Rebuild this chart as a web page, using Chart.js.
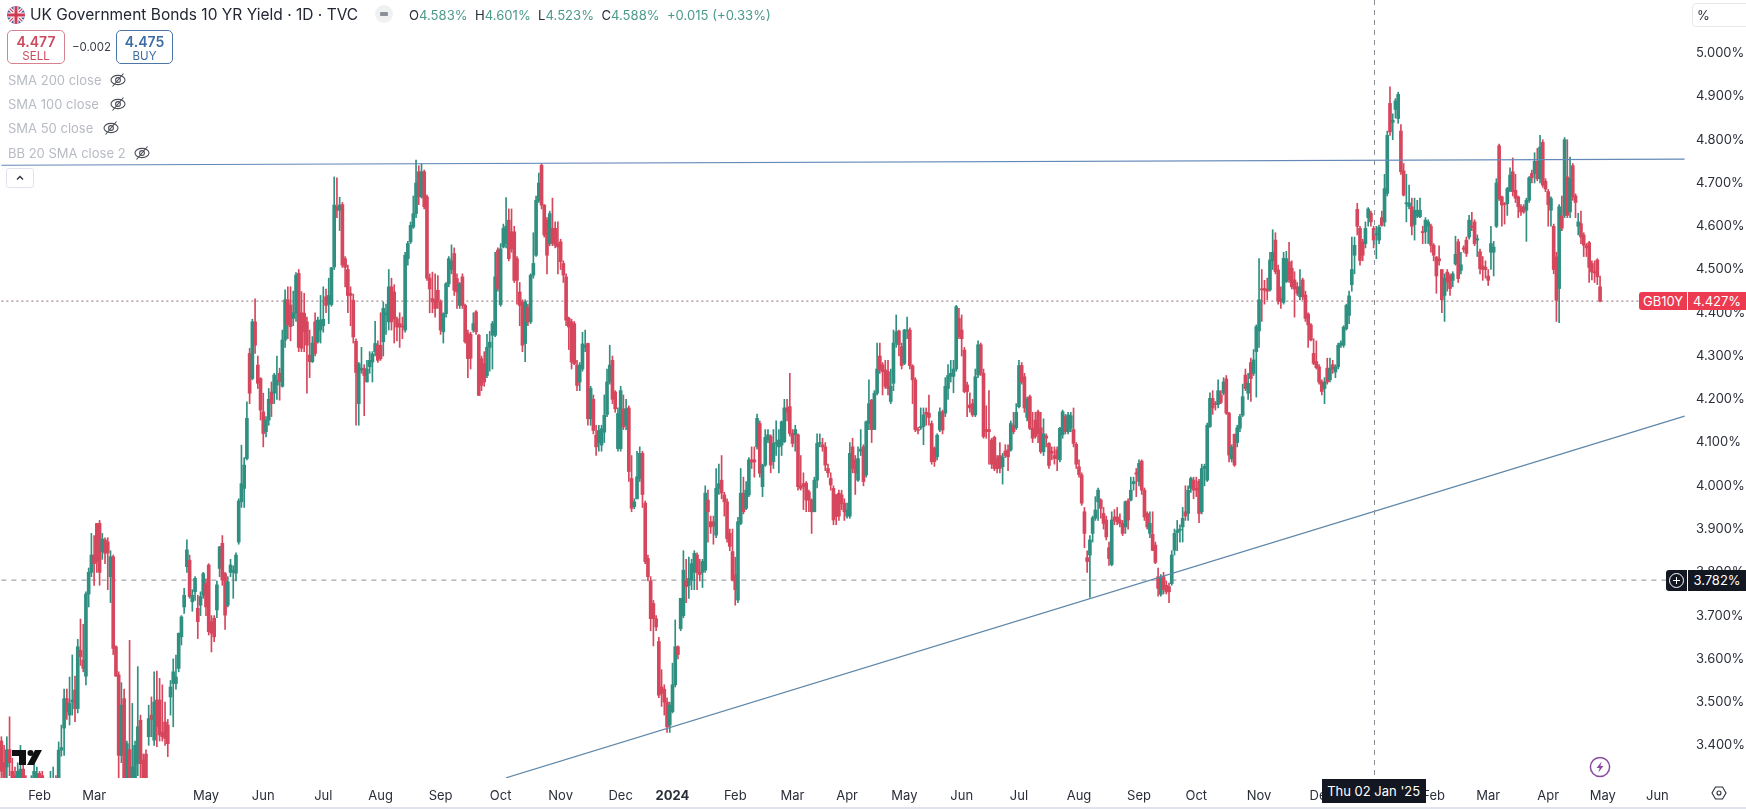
<!DOCTYPE html>
<html><head><meta charset="utf-8">
<title>UK Government Bonds 10 YR Yield</title>
<script src="https://cdn.jsdelivr.net/npm/chart.js@4"></script>
<style>
html,body{margin:0;padding:0;background:#fff;width:1746px;height:809px;overflow:hidden;font-family:Inter,"Noto Sans",sans-serif}
#wrap{position:relative;width:1746px;height:809px}
canvas{position:absolute;left:0;top:0}
.a{position:absolute;white-space:nowrap}
.ind{color:#b7bbc3;font-size:13px;left:8px;line-height:16px}
.box{border:1px solid;border-radius:5px;text-align:center;box-sizing:border-box;background:#fff}
.box b{display:block;font-size:14px;line-height:15px;margin-top:3px;font-weight:600}
.box span{display:block;font-size:11.5px;line-height:14px}
.badge{color:#fff;font-size:13px;line-height:21px;height:21px;text-align:center}
</style></head>
<body><div id="wrap">
<canvas id="c" width="1746" height="809"></canvas>

<svg class="a" style="left:7px;top:6px" width="18" height="18" viewBox="0 0 18 18"><defs><clipPath id="fc"><circle cx="9" cy="9" r="9"/></clipPath></defs><g clip-path="url(#fc)"><rect width="18" height="18" fill="#3f5a9c"/><path d="M0 0L18 18M18 0L0 18" stroke="#fff" stroke-width="3.4"/><path d="M0 0L18 18M18 0L0 18" stroke="#cf3b52" stroke-width="1.2"/><path d="M9 0V18M0 9H18" stroke="#fff" stroke-width="5"/><path d="M9 0V18M0 9H18" stroke="#cf3b52" stroke-width="3"/></g></svg>
<div class="a" style="left:30px;top:5px;font-size:15.5px;line-height:20px;color:#222733">UK Government Bonds 10 YR Yield · 1D · TVC</div>
<div class="a" style="left:375px;top:5px;width:18px;height:18px;border-radius:9px;background:#eff0f2"></div>
<div class="a" style="left:380px;top:12px;width:8px;height:4px;border-radius:1px;background:#8b8f98"></div>
<div class="a" style="left:409px;top:6px;font-size:13.1px;line-height:18px;color:#4c9a8b"><span style="color:#2a2e39">O</span>4.583% <span style="color:#2a2e39">&nbsp;H</span>4.601% <span style="color:#2a2e39">&nbsp;L</span>4.523% <span style="color:#2a2e39">&nbsp;C</span>4.588% &nbsp;+0.015 (+0.33%)</div>

<div class="a box" style="left:7px;top:30px;width:58px;height:34px;border-color:#d9828f;color:#cc4a5e"><b>4.477</b><span>SELL</span></div>
<div class="a" style="left:72px;top:40px;font-size:11.5px;line-height:14px;color:#3c4049">−0.002</div>
<div class="a box" style="left:116px;top:30px;width:57px;height:34px;border-color:#4a76a8;color:#3c6ca4"><b>4.475</b><span>BUY</span></div>

<div class="a ind" style="top:72px">SMA 200 close</div>
<div class="a ind" style="top:96px">SMA 100 close</div>
<div class="a ind" style="top:120px">SMA 50 close</div>
<div class="a ind" style="top:145px">BB 20 SMA close 2</div>
<svg class="a" style="left:109px;top:71px" width="18" height="18" viewBox="0 0 18 18"><use href="#eye"/></svg>
<svg class="a" style="left:109px;top:95px" width="18" height="18" viewBox="0 0 18 18"><use href="#eye"/></svg>
<svg class="a" style="left:102px;top:119px" width="18" height="18" viewBox="0 0 18 18"><use href="#eye"/></svg>
<svg class="a" style="left:133px;top:144px" width="18" height="18" viewBox="0 0 18 18"><use href="#eye"/></svg>
<svg width="0" height="0" style="position:absolute"><defs><g id="eye" fill="none" stroke="#4a4e57" stroke-width="1.1"><ellipse cx="9" cy="9" rx="7" ry="4.6"/><circle cx="9" cy="9" r="2.4"/><path d="M3.5 15.5L14.5 2.5"/></g></defs></svg>

<div class="a" style="left:6px;top:168px;width:28px;height:20px;border:1px solid #e0e3eb;border-radius:3px;box-sizing:border-box;background:#fff"></div>
<svg class="a" style="left:15px;top:173px" width="10" height="10" viewBox="0 0 10 10"><path d="M2 6.5L5 3.5L8 6.5" fill="none" stroke="#2a2e39" stroke-width="1.3"/></svg>

<div class="a" style="left:1692px;top:3px;width:60px;height:24px;border:1px solid #e6e8ee;border-radius:4px;box-sizing:border-box;font-size:13px;line-height:22px;color:#2a2e39;padding-left:4px">%</div>

<svg class="a" style="left:11px;top:749px" width="32" height="17" viewBox="0 0 32 17"><path d="M1 1H15V16H8V7H1Z" fill="#111"/><circle cx="19.5" cy="4" r="3" fill="#111"/><path d="M24 1H31L23 16H16Z" fill="#111"/></svg>
<svg class="a" style="left:1589px;top:756px" width="22" height="22" viewBox="0 0 22 22"><circle cx="11" cy="11" r="9.6" fill="#fff" stroke="#8a4aa0" stroke-width="1.5"/><path d="M12.6 5.5L7.6 12H10.6L9.4 16.5L14.4 10H11.4Z" fill="#8a4aa0"/></svg>
<svg class="a" style="left:1711px;top:785px" width="16" height="16" viewBox="0 0 16 16"><path d="M4.5 2H11.5L15 8L11.5 14H4.5L1 8Z" fill="none" stroke="#2a2e39" stroke-width="1.1"/><circle cx="8" cy="8" r="2" fill="none" stroke="#2a2e39" stroke-width="1.1"/></svg>

<div id="tagName" class="a badge" style="left:1639px;width:48px;background:#ec3a50;border-radius:3px 0 0 3px;height:18px;line-height:18px">GB10Y</div>
<div id="tagLast" class="a badge" style="left:1688px;width:58px;background:#ec3a50;height:18px;line-height:18px">4.427%</div>
<div id="tagPlus" class="a" style="left:1666px;width:21px;height:21px;background:#131722;border-radius:3px 0 0 3px"></div>
<svg id="tagPlusIcon" class="a" style="left:1668px" width="17" height="17" viewBox="0 0 17 17"><circle cx="8.5" cy="8.5" r="7" fill="none" stroke="#fff" stroke-width="1"/><path d="M8.5 5V12M5 8.5H12" stroke="#fff" stroke-width="1"/></svg>
<div id="tagCross" class="a badge" style="left:1688px;width:58px;background:#131722">3.782%</div>
<div id="tagDate" class="a badge" style="top:779px;width:104px;height:24px;line-height:24px;background:#131722">Thu 02 Jan '25</div>
<div class="a" style="left:0;top:807px;width:1746px;height:2px;background:#e0e3eb"></div>
</div>

<script>
const opens=[
3.41,3.36,3.35,3.39,3.34,3.33,3.31,3.32,3.345,3.31,
3.30,3.29,3.31,3.32,3.335,3.33,3.30,3.29,3.30,3.31,
3.32,3.30,3.389,3.44,3.508,3.47,3.50,3.528,3.485,3.62,
3.597,3.56,3.75,3.80,3.84,3.913,3.913,3.848,3.875,3.87,
3.79,3.836,3.628,3.563,3.377,3.508,3.30,3.39,3.30,3.31,
3.358,3.458,3.366,3.38,3.42,3.47,3.412,3.505,3.505,3.43,
3.454,3.447,3.512,3.543,3.543,3.578,3.651,3.72,3.813,3.828,
3.732,3.755,3.717,3.724,3.747,3.774,3.817,3.686,3.694,3.713,
3.809,3.867,3.797,3.724,3.80,3.80,3.798,3.87,3.963,3.994,
4.063,4.306,4.248,4.379,4.279,4.248,4.171,4.125,4.152,4.217,
4.214,4.233,4.26,4.23,4.337,4.43,4.418,4.387,4.399,4.491,
4.40,4.399,4.379,4.302,4.287,4.379,4.333,4.36,4.37,4.437,
4.42,4.419,4.506,4.645,4.637,4.65,4.525,4.50,4.445,4.429,
4.334,4.19,4.267,4.271,4.24,4.275,4.286,4.31,4.325,4.325,
4.333,4.395,4.379,4.46,4.448,4.386,4.375,4.37,4.36,4.525,
4.564,4.598,4.629,4.726,4.668,4.726,4.668,4.48,4.433,4.43,
4.452,4.425,4.356,4.398,4.467,4.50,4.537,4.479,4.417,4.483,
4.417,4.352,4.35,4.36,4.402,4.348,4.294,4.282,4.255,4.32,
4.348,4.348,4.545,4.419,4.552,4.56,4.614,4.587,4.587,4.525,
4.448,4.425,4.329,4.413,4.379,4.487,4.533,4.66,4.741,4.649,
4.614,4.56,4.595,4.595,4.56,4.564,4.514,4.483,4.387,4.379,
4.375,4.279,4.24,4.27,4.32,4.329,4.155,4.20,4.117,4.10,
4.094,4.124,4.165,4.24,4.29,4.217,4.086,4.086,4.178,4.14,
4.18,4.017,3.952,3.97,4.017,4.075,3.96,3.832,3.78,3.728,
3.693,3.64,3.535,3.53,3.50,3.447,3.478,3.54,3.628,3.67,
3.70,3.78,3.77,3.782,3.80,3.84,3.80,3.80,3.805,3.967,
3.917,3.917,3.886,3.994,4.013,3.979,3.963,3.89,3.848,3.794,
3.736,3.913,3.983,3.948,3.979,4.06,4.06,4.09,4.144,3.998,
4.048,4.106,4.114,4.056,4.098,4.09,4.094,4.102,4.18,4.183,
4.121,4.118,4.118,4.0,4.005,4.006,3.986,3.967,3.94,4.013,
4.098,4.095,4.09,4.04,4.017,3.994,3.979,3.983,3.979,3.96,
3.93,3.93,4.09,4.06,4.013,4.08,4.09,4.025,4.144,4.198,
4.13,4.214,4.30,4.28,4.268,4.264,4.195,4.237,4.33,4.358,
4.322,4.283,4.358,4.36,4.277,4.245,4.13,4.134,4.137,4.17,
4.168,4.144,4.087,4.067,4.129,4.171,4.168,4.225,4.253,4.253,
4.27,4.387,4.36,4.314,4.233,4.187,4.19,4.164,4.256,4.326,
4.26,4.13,4.13,4.106,4.112,4.063,4.07,4.044,4.08,4.083,
4.083,4.14,4.134,4.183,4.278,4.252,4.158,4.206,4.133,4.152,
4.171,4.134,4.079,4.115,4.098,4.08,4.07,4.083,4.06,4.118,
4.16,4.125,4.133,4.13,4.096,4.044,4.025,3.94,3.834,3.84,
3.89,3.925,3.963,3.967,3.936,3.921,3.857,3.818,3.928,3.928,
3.921,3.913,3.905,3.965,3.967,4.005,4.03,4.01,4.057,3.99,
3.936,3.89,3.888,3.863,3.79,3.749,3.79,3.77,3.767,3.774,
3.851,3.892,3.897,3.905,3.94,3.936,3.994,4.013,3.994,4.011,
3.94,4.04,4.013,4.137,4.202,4.19,4.188,4.21,4.214,4.247,
4.168,4.062,4.119,4.10,4.133,4.163,4.256,4.214,4.285,4.26,
4.31,4.358,4.455,4.456,4.455,4.453,4.52,4.568,4.499,4.433,
4.424,4.472,4.518,4.503,4.476,4.46,4.437,4.476,4.441,4.397,
4.372,4.306,4.287,4.275,4.24,4.225,4.272,4.245,4.28,4.263,
4.275,4.325,4.325,4.363,4.394,4.465,4.533,4.639,4.595,4.564,
4.56,4.62,4.63,4.595,4.58,4.568,4.62,4.61,4.676,4.884,
4.84,4.87,4.849,4.82,4.728,4.652,4.646,4.645,4.604,4.624,
4.622,4.588,4.587,4.60,4.60,4.556,4.529,4.525,4.50,4.44,
4.494,4.485,4.475,4.513,4.564,4.498,4.55,4.568,4.575,4.60,
4.61,4.568,4.541,4.508,4.505,4.485,4.54,4.54,4.60,4.786,
4.668,4.651,4.652,4.683,4.726,4.683,4.668,4.645,4.645,4.637,
4.66,4.722,4.722,4.75,4.71,4.794,4.704,4.68,4.637,4.60,
4.529,4.456,4.624,4.625,4.714,4.633,4.74,4.67,4.60,4.606,
4.58,4.555,4.562,4.514,4.495,4.522,4.46];
const closes=[
3.34,3.30,3.39,3.36,3.31,3.30,3.34,3.345,3.31,3.29,
3.28,3.31,3.34,3.335,3.32,3.31,3.29,3.30,3.315,3.32,
3.30,3.389,3.395,3.508,3.478,3.497,3.505,3.485,3.628,3.605,
3.578,3.75,3.80,3.84,3.82,3.825,3.80,3.877,3.844,3.845,
3.836,3.624,3.56,3.377,3.493,3.30,3.404,3.31,3.35,3.40,
3.443,3.358,3.30,3.32,3.462,3.46,3.50,3.443,3.424,3.42,
3.416,3.404,3.535,3.57,3.558,3.659,3.697,3.747,3.852,3.744,
3.747,3.786,3.686,3.744,3.797,3.72,3.663,3.659,3.651,3.771,
3.859,3.782,3.701,3.778,3.817,3.805,3.84,3.965,4.005,4.048,
4.156,4.214,4.379,4.325,4.237,4.175,4.121,4.152,4.20,4.19,
4.256,4.244,4.241,4.337,4.43,4.372,4.368,4.40,4.487,4.32,
4.318,4.356,4.325,4.287,4.33,4.306,4.383,4.383,4.385,4.417,
4.44,4.504,4.649,4.637,4.649,4.51,4.505,4.44,4.44,4.344,
4.262,4.282,4.272,4.255,4.27,4.29,4.305,4.329,4.29,4.294,
4.41,4.40,4.46,4.379,4.386,4.367,4.367,4.367,4.533,4.56,
4.602,4.629,4.70,4.668,4.726,4.645,4.48,4.455,4.425,4.41,
4.425,4.36,4.398,4.467,4.525,4.52,4.452,4.448,4.467,4.417,
4.333,4.294,4.295,4.375,4.356,4.209,4.232,4.24,4.32,4.332,
4.375,4.483,4.456,4.548,4.595,4.60,4.525,4.548,4.475,4.475,
4.417,4.325,4.425,4.379,4.487,4.514,4.66,4.70,4.649,4.58,
4.533,4.629,4.56,4.556,4.552,4.518,4.487,4.383,4.367,4.286,
4.282,4.232,4.279,4.328,4.325,4.155,4.225,4.128,4.09,4.128,
4.132,4.163,4.24,4.279,4.20,4.178,4.167,4.22,4.136,4.178,
4.033,3.948,3.963,4.021,4.075,3.98,3.825,3.79,3.693,3.693,
3.674,3.516,3.52,3.50,3.443,3.493,3.54,3.628,3.61,3.74,
3.805,3.767,3.786,3.82,3.844,3.80,3.795,3.825,3.983,3.94,
3.905,3.907,3.994,4.005,3.983,3.963,3.878,3.86,3.782,3.76,
3.917,3.983,3.94,3.99,4.06,4.055,4.055,4.156,4.029,4.048,
4.112,4.118,4.048,4.098,4.10,4.106,4.148,4.18,4.17,4.121,
4.098,4.13,3.998,3.994,3.998,3.967,3.967,3.94,4.013,4.098,
4.10,4.09,4.048,4.03,4.002,3.921,3.929,3.93,3.959,3.94,
3.944,4.075,4.04,4.03,4.063,4.085,4.01,4.148,4.19,4.13,
4.214,4.27,4.268,4.264,4.23,4.225,4.23,4.33,4.356,4.326,
4.278,4.36,4.36,4.278,4.245,4.13,4.128,4.137,4.164,4.165,
4.158,4.056,4.056,4.117,4.171,4.129,4.23,4.255,4.26,4.27,
4.414,4.345,4.34,4.218,4.218,4.18,4.164,4.252,4.326,4.26,
4.114,4.126,4.125,4.05,4.04,4.04,4.04,4.067,4.07,4.067,
4.144,4.125,4.17,4.278,4.24,4.18,4.20,4.133,4.11,4.114,
4.12,4.079,4.12,4.11,4.047,4.075,4.063,4.063,4.133,4.171,
4.125,4.164,4.162,4.098,4.05,4.026,3.96,3.89,3.825,3.875,
3.926,3.944,3.99,3.948,3.913,3.882,3.832,3.921,3.92,3.917,
3.913,3.89,3.963,3.921,3.99,4.01,4.027,4.052,3.99,3.928,
3.905,3.913,3.851,3.823,3.763,3.786,3.76,3.755,3.755,3.84,
3.89,3.897,3.90,3.925,3.93,3.99,4.017,3.99,3.99,3.936,
4.04,4.045,4.14,4.202,4.18,4.188,4.22,4.193,4.24,4.168,
4.071,4.09,4.048,4.134,4.16,4.206,4.225,4.237,4.248,4.291,
4.368,4.43,4.453,4.452,4.45,4.522,4.54,4.495,4.427,4.426,
4.526,4.525,4.476,4.46,4.455,4.445,4.46,4.437,4.387,4.372,
4.337,4.283,4.273,4.24,4.218,4.24,4.24,4.272,4.27,4.275,
4.325,4.33,4.367,4.417,4.439,4.50,4.556,4.60,4.521,4.533,
4.595,4.64,4.61,4.568,4.583,4.598,4.602,4.687,4.81,4.818,
4.845,4.89,4.905,4.726,4.672,4.654,4.654,4.60,4.637,4.637,
4.637,4.585,4.614,4.61,4.556,4.533,4.485,4.52,4.43,4.48,
4.471,4.456,4.49,4.535,4.479,4.511,4.547,4.537,4.614,4.598,
4.56,4.571,4.502,4.50,4.50,4.475,4.56,4.552,4.70,4.664,
4.649,4.65,4.687,4.718,4.68,4.665,4.645,4.633,4.633,4.66,
4.712,4.712,4.75,4.71,4.783,4.695,4.686,4.65,4.664,4.50,
4.429,4.645,4.596,4.80,4.625,4.71,4.668,4.655,4.61,4.575,
4.556,4.55,4.505,4.494,4.492,4.483,4.427];
const highs=[
3.42,3.40,3.42,3.466,3.37,3.35,3.36,3.40,3.36,3.33,
3.32,3.33,3.36,3.35,3.34,3.34,3.31,3.31,3.34,3.35,
3.33,3.408,3.447,3.53,3.53,3.558,3.609,3.56,3.645,3.692,
3.68,3.755,3.81,3.89,3.885,3.913,3.92,3.89,3.88,3.88,
3.85,3.84,3.63,3.57,3.545,3.53,3.41,3.643,3.497,3.41,
3.582,3.47,3.38,3.39,3.493,3.512,3.57,3.572,3.555,3.54,
3.50,3.46,3.55,3.60,3.609,3.66,3.70,3.763,3.875,3.84,
3.76,3.79,3.747,3.755,3.80,3.785,3.82,3.70,3.70,3.78,
3.86,3.885,3.80,3.79,3.83,3.815,3.845,3.97,4.094,4.065,
4.194,4.318,4.385,4.432,4.30,4.25,4.214,4.16,4.225,4.24,
4.26,4.30,4.272,4.36,4.453,4.46,4.46,4.45,4.493,4.50,
4.449,4.445,4.39,4.36,4.345,4.40,4.39,4.44,4.46,4.455,
4.48,4.505,4.714,4.712,4.667,4.655,4.53,4.51,4.46,4.443,
4.34,4.285,4.32,4.28,4.29,4.31,4.31,4.38,4.335,4.40,
4.425,4.42,4.50,4.48,4.465,4.39,4.40,4.39,4.54,4.565,
4.61,4.67,4.753,4.74,4.745,4.73,4.672,4.49,4.494,4.49,
4.486,4.43,4.40,4.47,4.53,4.557,4.55,4.49,4.47,4.49,
4.42,4.36,4.355,4.40,4.405,4.35,4.30,4.31,4.35,4.357,
4.38,4.54,4.55,4.56,4.605,4.666,4.64,4.64,4.60,4.53,
4.47,4.43,4.43,4.42,4.49,4.585,4.67,4.723,4.745,4.65,
4.62,4.635,4.665,4.61,4.61,4.57,4.52,4.49,4.39,4.385,
4.38,4.29,4.285,4.355,4.36,4.33,4.23,4.21,4.14,4.14,
4.14,4.21,4.27,4.325,4.30,4.22,4.18,4.23,4.21,4.20,
4.185,4.07,3.97,4.08,4.09,4.08,3.965,3.84,3.79,3.735,
3.70,3.65,3.575,3.54,3.51,3.50,3.59,3.69,3.63,3.74,
3.85,3.83,3.835,3.83,3.85,3.845,3.83,3.83,4.0,3.99,
3.93,3.93,4.04,4.05,4.07,3.985,3.97,3.90,3.90,3.835,
3.927,4.04,4.02,4.01,4.065,4.09,4.09,4.166,4.15,4.05,
4.13,4.13,4.118,4.13,4.15,4.13,4.15,4.20,4.20,4.26,
4.13,4.14,4.12,4.07,4.03,4.01,3.99,3.97,4.02,4.12,
4.12,4.11,4.10,4.05,4.03,4.0,3.98,3.99,3.99,3.97,
3.96,4.10,4.11,4.07,4.09,4.13,4.095,4.15,4.245,4.20,
4.22,4.33,4.33,4.285,4.29,4.29,4.27,4.36,4.395,4.36,
4.33,4.362,4.39,4.365,4.28,4.25,4.135,4.18,4.18,4.18,
4.21,4.15,4.09,4.12,4.18,4.175,4.25,4.28,4.29,4.29,
4.417,4.41,4.395,4.32,4.24,4.215,4.20,4.27,4.335,4.33,
4.27,4.185,4.22,4.11,4.115,4.07,4.10,4.075,4.095,4.095,
4.15,4.17,4.19,4.29,4.285,4.26,4.205,4.21,4.17,4.17,
4.175,4.17,4.155,4.12,4.10,4.09,4.09,4.09,4.135,4.175,
4.165,4.17,4.17,4.18,4.10,4.06,4.03,3.95,3.85,3.885,
3.93,3.975,3.995,3.97,3.95,3.93,3.87,3.94,3.945,3.95,
3.935,3.92,3.965,3.97,4.02,4.02,4.04,4.06,4.06,3.995,
3.94,3.94,3.94,3.87,3.81,3.795,3.80,3.78,3.775,3.85,
3.90,3.92,3.91,3.95,4.0,4.0,4.02,4.02,4.02,4.015,
4.05,4.05,4.145,4.215,4.22,4.195,4.245,4.22,4.25,4.255,
4.17,4.095,4.12,4.14,4.165,4.235,4.27,4.26,4.295,4.315,
4.372,4.525,4.50,4.475,4.48,4.54,4.592,4.585,4.51,4.46,
4.54,4.542,4.563,4.52,4.495,4.47,4.50,4.48,4.45,4.40,
4.375,4.34,4.335,4.28,4.245,4.25,4.295,4.295,4.29,4.28,
4.33,4.335,4.37,4.42,4.45,4.575,4.575,4.653,4.60,4.57,
4.61,4.643,4.635,4.60,4.60,4.603,4.635,4.72,4.82,4.922,
4.86,4.895,4.91,4.835,4.745,4.72,4.695,4.665,4.665,4.66,
4.665,4.60,4.62,4.615,4.605,4.56,4.53,4.555,4.50,4.49,
4.50,4.49,4.495,4.577,4.57,4.54,4.555,4.575,4.625,4.632,
4.615,4.58,4.547,4.53,4.52,4.50,4.60,4.565,4.71,4.79,
4.67,4.655,4.69,4.735,4.758,4.72,4.67,4.65,4.65,4.665,
4.715,4.73,4.77,4.78,4.81,4.80,4.71,4.685,4.668,4.605,
4.54,4.65,4.67,4.805,4.80,4.76,4.745,4.675,4.63,4.635,
4.585,4.56,4.565,4.52,4.52,4.525,4.485];
const lows=[
3.30,3.27,3.30,3.33,3.29,3.28,3.29,3.30,3.29,3.27,
3.26,3.27,3.30,3.30,3.30,3.29,3.27,3.27,3.28,3.29,
3.28,3.29,3.375,3.377,3.46,3.447,3.47,3.455,3.475,3.585,
3.57,3.54,3.72,3.79,3.77,3.80,3.77,3.83,3.82,3.76,
3.73,3.61,3.56,3.30,3.36,3.27,3.28,3.29,3.27,3.30,
3.33,3.32,3.28,3.30,3.40,3.42,3.40,3.397,3.41,3.41,
3.40,3.374,3.47,3.443,3.53,3.57,3.632,3.705,3.80,3.74,
3.71,3.735,3.647,3.70,3.74,3.70,3.655,3.616,3.64,3.695,
3.79,3.77,3.668,3.72,3.79,3.74,3.78,3.865,3.95,3.95,
4.06,4.19,4.245,4.306,4.225,4.152,4.09,4.113,4.14,4.16,
4.19,4.20,4.198,4.228,4.32,4.34,4.335,4.37,4.38,4.31,
4.31,4.31,4.214,4.25,4.285,4.30,4.33,4.33,4.355,4.40,
4.375,4.415,4.50,4.62,4.59,4.505,4.46,4.40,4.37,4.33,
4.14,4.14,4.26,4.162,4.24,4.26,4.24,4.30,4.285,4.29,
4.30,4.35,4.36,4.36,4.33,4.335,4.32,4.34,4.355,4.51,
4.56,4.595,4.62,4.65,4.665,4.64,4.475,4.40,4.40,4.39,
4.41,4.35,4.33,4.39,4.46,4.49,4.44,4.41,4.41,4.41,
4.33,4.25,4.27,4.355,4.35,4.209,4.22,4.23,4.25,4.265,
4.27,4.345,4.45,4.415,4.55,4.55,4.52,4.54,4.47,4.42,
4.37,4.31,4.287,4.37,4.375,4.48,4.53,4.655,4.64,4.575,
4.49,4.555,4.555,4.55,4.49,4.50,4.47,4.37,4.315,4.27,
4.28,4.22,4.22,4.265,4.31,4.14,4.14,4.12,4.07,4.08,
4.08,4.10,4.16,4.235,4.19,4.17,4.08,4.08,4.13,4.13,
4.01,3.94,3.947,3.97,4.01,3.95,3.82,3.78,3.665,3.63,
3.665,3.51,3.49,3.47,3.43,3.43,3.475,3.535,3.60,3.665,
3.695,3.73,3.74,3.76,3.76,3.76,3.78,3.765,3.80,3.87,
3.89,3.865,3.88,3.98,3.97,3.93,3.87,3.85,3.78,3.724,
3.73,3.91,3.935,3.945,3.975,4.04,4.02,4.085,4.02,3.975,
4.045,4.10,4.03,4.04,4.07,4.03,4.07,4.10,4.15,4.115,
4.09,4.08,3.99,3.99,3.945,3.94,3.94,3.89,3.94,3.995,
4.09,4.08,4.035,4.02,3.99,3.91,3.91,3.92,3.945,3.92,
3.925,3.925,4.03,3.98,4.01,4.07,4.00,4.02,4.13,4.10,
4.13,4.21,4.26,4.21,4.225,4.21,4.19,4.22,4.32,4.30,
4.27,4.28,4.34,4.27,4.19,4.125,4.12,4.13,4.095,4.14,
4.14,4.05,4.045,4.06,4.125,4.12,4.16,4.20,4.24,4.215,
4.265,4.34,4.30,4.215,4.16,4.17,4.16,4.16,4.25,4.255,
4.11,4.11,4.05,4.04,4.035,4.03,4.03,4.004,4.065,4.035,
4.08,4.12,4.13,4.18,4.235,4.17,4.15,4.13,4.10,4.11,
4.10,4.075,4.07,4.09,4.04,4.06,4.05,4.035,4.055,4.11,
4.12,4.12,4.125,4.09,4.04,4.02,3.955,3.857,3.80,3.742,
3.87,3.92,3.92,3.925,3.90,3.875,3.816,3.815,3.91,3.91,
3.905,3.885,3.89,3.90,3.965,3.99,3.975,4.0,3.98,3.92,
3.90,3.88,3.85,3.82,3.745,3.745,3.75,3.75,3.73,3.77,
3.84,3.85,3.87,3.87,3.92,3.92,3.985,3.97,3.975,3.915,
3.935,4.0,4.01,4.135,4.165,4.175,4.18,4.19,4.21,4.165,
4.055,4.055,4.045,4.09,4.125,4.16,4.22,4.20,4.195,4.255,
4.205,4.32,4.38,4.42,4.43,4.45,4.50,4.49,4.42,4.41,
4.42,4.47,4.47,4.455,4.39,4.44,4.43,4.43,4.38,4.32,
4.335,4.28,4.27,4.235,4.21,4.19,4.235,4.24,4.26,4.25,
4.27,4.32,4.32,4.36,4.375,4.45,4.49,4.58,4.51,4.52,
4.55,4.60,4.60,4.55,4.525,4.56,4.60,4.60,4.67,4.81,
4.80,4.85,4.838,4.72,4.67,4.61,4.64,4.58,4.568,4.62,
4.62,4.56,4.56,4.56,4.54,4.52,4.445,4.51,4.40,4.38,
4.45,4.44,4.46,4.51,4.47,4.49,4.54,4.53,4.57,4.59,
4.555,4.53,4.49,4.475,4.48,4.463,4.50,4.485,4.597,4.66,
4.60,4.605,4.625,4.68,4.67,4.655,4.62,4.625,4.63,4.565,
4.655,4.70,4.70,4.705,4.70,4.69,4.68,4.60,4.60,4.49,
4.38,4.377,4.59,4.62,4.62,4.62,4.66,4.62,4.58,4.56,
4.53,4.53,4.47,4.476,4.47,4.465,4.425];

const monthNames=['Feb','Mar','May','Jun','Jul','Aug','Sep','Oct','Nov','Dec','2024','Feb','Mar','Apr','May','Jun','Jul','Aug','Sep','Oct','Nov','Dec','Feb','Mar','Apr','May','Jun'];
const monthBars=[14,34,75,96,118,139,161,183,205,227,246,269,290,310,331,352,373,395,417,438,461,484,525,545,567,587,607];
const barSlots=618;
const yTickValues=[5.0,4.9,4.8,4.7,4.6,4.5,4.4,4.3,4.2,4.1,4.0,3.9,3.8,3.7,3.6,3.5,3.4];
const yAxisTop=5.123, yAxisBottom=3.3246;
const resistanceBars=[0,617], resistanceValues=[4.741,4.755];
const supportBars=[185,617], supportValues=[3.325,4.161];
const lastPrice=4.427, crossPrice=3.782, crossBar=503;

const GREEN='#2f8f80', RED='#d6465c';
const labels=Array.from({length:barSlots},()=>'');
monthBars.forEach((b,i)=>{labels[b]=monthNames[i];});
const sparse=(bars,vals)=>{const d=new Array(barSlots).fill(null);bars.forEach((b,i)=>{d[b]=vals[i];});return d;};
const lineDs=(bars,vals,color,width,dash)=>({type:'line',data:sparse(bars,vals),borderColor:color,borderWidth:width,borderDash:dash||[],pointRadius:0,spanGaps:true,tension:0,order:dash?3:1});
const candleColor=c=>closes[c.dataIndex]>=opens[c.dataIndex]?GREEN:RED;
const noPad=s=>{s.paddingLeft=s.paddingRight=s.paddingTop=s.paddingBottom=0;};

const crosshair={id:'crosshair',afterDatasetsDraw(chart){
  const x=chart.scales.x.getPixelForValue(crossBar),a=chart.chartArea,g=chart.ctx;
  g.save();g.strokeStyle='#8a8e96';g.lineWidth=1;g.setLineDash([5,5]);
  g.beginPath();g.moveTo(Math.round(x)+.5,a.top);g.lineTo(Math.round(x)+.5,a.bottom);g.stroke();g.restore();
}};
const FONT='Inter, "Noto Sans", sans-serif';
const chart=new Chart(document.getElementById('c'),{
  type:'bar',
  data:{labels,datasets:[
    lineDs(resistanceBars,resistanceValues,'#6488b8',1.2),
    lineDs(supportBars,supportValues,'#5f87a8',1.2),
    lineDs([0,617],[lastPrice,lastPrice],'#8c6a70',1,[2,3]),
    lineDs([0,617],[crossPrice,crossPrice],'#8a8e96',1,[5,5]),
    {data:opens.map((o,i)=>[o,closes[i]]),backgroundColor:candleColor,barThickness:3,grouped:false,minBarLength:1,order:2,borderSkipped:false},
    {data:lows.map((l,i)=>[l,highs[i]]),backgroundColor:candleColor,barThickness:1,grouped:false,order:2.5,borderSkipped:false}
  ]},
  options:{
    responsive:false,animation:false,devicePixelRatio:1,
    layout:{padding:0},
    plugins:{legend:{display:false},tooltip:{enabled:false}},
    events:[],
    scales:{
      x:{type:'category',offset:true,grid:{display:false,drawTicks:false},border:{display:false},
        afterFit(s){s.height=31;noPad(s);},
        ticks:{autoSkip:false,maxRotation:0,minRotation:0,padding:10,color:'#2a2e39',
          font:c=>({family:FONT,size:13,weight:c.tick&&c.tick.label==='2024'?'bold':'normal'}),
          callback(v){return this.getLabelForValue(v);}}},
      y:{position:'right',min:yAxisBottom,max:yAxisTop,grid:{display:false,drawTicks:false},border:{display:false},
        afterFit(s){s.width=60;noPad(s);},
        afterBuildTicks(s){s.ticks=yTickValues.map(value=>({value}));},
        ticks:{padding:10,color:'#2a2e39',font:{family:FONT,size:13},callback:v=>v.toFixed(3)+'%'}}
    }
  },
  plugins:[crosshair]
});

const py=v=>chart.scales.y.getPixelForValue(v);
const place=(id,v,h)=>{document.getElementById(id).style.top=(py(v)-h/2)+'px';};
place('tagName',lastPrice,18);place('tagLast',lastPrice,18);
place('tagPlus',crossPrice,21);place('tagPlusIcon',crossPrice,17);place('tagCross',crossPrice,21);
document.getElementById('tagDate').style.left=(chart.scales.x.getPixelForValue(crossBar)-52)+'px';
</script>
</body></html>
